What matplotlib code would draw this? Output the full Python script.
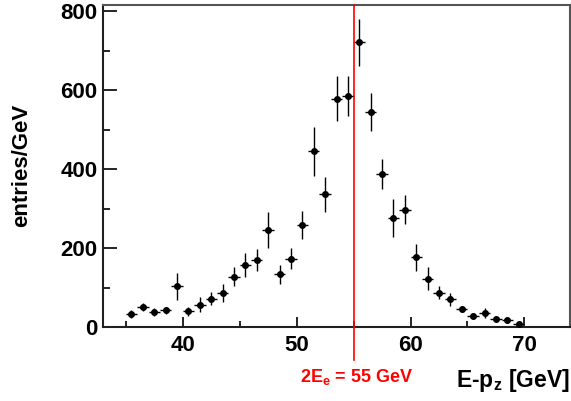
import numpy as np
import matplotlib
matplotlib.use("Agg")
import matplotlib.pyplot as plt
from matplotlib.ticker import MultipleLocator

plt.rcParams['font.family'] = ['Liberation Sans', 'DejaVu Sans']
plt.rcParams['mathtext.fontset'] = 'custom'
plt.rcParams['mathtext.rm'] = 'Liberation Sans:bold'
plt.rcParams['mathtext.it'] = 'Liberation Sans:bold'
plt.rcParams['mathtext.bf'] = 'Liberation Sans:bold'
plt.rcParams['mathtext.default'] = 'bf'

# Data: bin centres (1 GeV bins), entries/GeV, vertical errors
bin_centers = np.arange(35.5, 70.0, 1.0)
entries = [33, 51, 37, 42, 103, 40, 56, 72, 86, 127,
           157, 170, 245, 134, 173, 259, 445, 336, 579, 586,
           721, 545, 387, 276, 297, 177, 122, 87, 70, 46,
           29, 35, 20, 18, 7]
errors = [11, 10, 10, 9, 34, 11, 19, 17, 23, 24,
          30, 27, 46, 24, 26, 35, 63, 44, 57, 51,
          59, 49, 38, 48, 37, 34, 29, 17, 16, 8,
          6, 12, 6, 6, 5]
bin_half_width = 0.5
beam_line = 55  # 2E_e

fig = plt.figure(figsize=(5.71, 4.01), dpi=100)
ax = fig.add_axes([103/571, 1-327/401, (570-103)/571, (327-5)/401])

ax.errorbar(bin_centers, entries, yerr=errors, xerr=bin_half_width,
            fmt='o', color='black', ecolor='black', markersize=4,
            elinewidth=1.0, capsize=0, zorder=3)

ax.axvline(beam_line, ymin=-0.103, ymax=1.0, color='#ff0000', lw=1.2,
           clip_on=False, zorder=4)

ax.set_xlim(33, 74)
ax.set_ylim(0, 816)

ax.xaxis.set_major_locator(MultipleLocator(10))
ax.xaxis.set_minor_locator(MultipleLocator(5))
ax.yaxis.set_major_locator(MultipleLocator(200))
ax.yaxis.set_minor_locator(MultipleLocator(100))

ax.tick_params(axis='both', which='both', direction='in', top=False, right=False)
ax.tick_params(axis='y', which='major', length=10, width=1.2, pad=4)
ax.tick_params(axis='y', which='minor', length=5, width=1.2)
ax.tick_params(axis='x', which='major', length=7, width=1.2, pad=6)
ax.tick_params(axis='x', which='minor', length=4, width=1.2)

for lab in ax.get_xticklabels() + ax.get_yticklabels():
    lab.set_fontsize(16)
    lab.set_fontweight('bold')

for s in ['left', 'bottom']:
    ax.spines[s].set_color('#202020')
    ax.spines[s].set_linewidth(1.5)
for s in ['top', 'right']:
    ax.spines[s].set_color('#555555')
    ax.spines[s].set_linewidth(1.5)

fig.text(22/571, 1-165/401, 'entries/GeV', rotation=90, fontsize=16,
         fontweight='bold', ha='center', va='center')
fig.text(570/571, 1-387/401, r'E-p$_{z}$ [GeV]', fontsize=16.5,
         fontweight='bold', ha='right', va='baseline')
fig.text(357/571, 1-382/401, r'2E$_{e}$ = 55 GeV', fontsize=13,
         fontweight='bold', color='#ff0000', ha='center', va='baseline')

fig.savefig('out.png', dpi=100)
